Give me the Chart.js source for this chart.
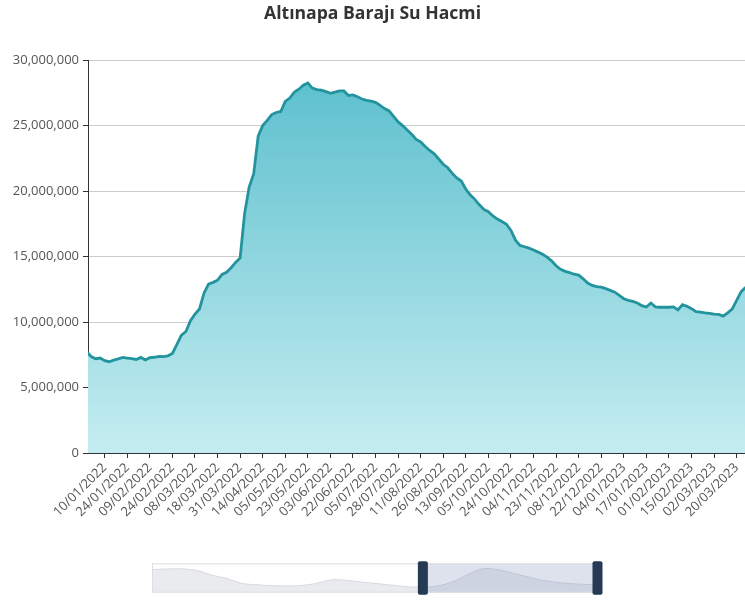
<!DOCTYPE html>
<html>
<head>
<meta charset="utf-8">
<script src="https://cdn.jsdelivr.net/npm/chart.js@4.4.1/dist/chart.umd.min.js"></script>
<style>
  html, body { margin: 0; padding: 0; background: #fff; overflow: hidden; }
  #wrap { position: relative; width: 745px; height: 600px; }
  #main { position: absolute; left: 0; top: 0; }
  #zoom { position: absolute; left: 140px; top: 555px; }
</style>
</head>
<body>
<div id="wrap">
  <canvas id="main" width="745" height="540"></canvas>
  <canvas id="zoom" width="475" height="45"></canvas>
</div>
<script>
// x axis tick labels (one every 5 points)
var tickLabels = ['10/01/2022', '24/01/2022', '09/02/2022', '24/02/2022', '08/03/2022', '18/03/2022',
  '31/03/2022', '14/04/2022', '05/05/2022', '23/05/2022', '03/06/2022', '22/06/2022', '05/07/2022',
  '28/07/2022', '11/08/2022', '26/08/2022', '13/09/2022', '05/10/2022', '24/10/2022', '04/11/2022',
  '23/11/2022', '08/12/2022', '22/12/2022', '04/01/2023', '17/01/2023', '01/02/2023', '15/02/2023',
  '02/03/2023', '20/03/2023'];
var pointsPerTick = 5;
var firstIndex = -4;   // first visible point sits 4 steps before 10/01/2022

// water volume, million m3
var volume = [
  7.75, 7.36, 7.2, 7.25,
  7.05, 6.97, 7.09, 7.19, 7.3, 7.25, 7.2, 7.14, 7.3, 7.11,
  7.28, 7.31, 7.37, 7.36, 7.42, 7.6, 8.3, 9.0, 9.28, 10.1,
  10.6, 11.0, 12.2, 12.9, 13.03, 13.2, 13.64, 13.8, 14.15, 14.55,
  14.9, 18.3, 20.3, 21.3, 24.2, 25.0, 25.4, 25.84, 26.0, 26.08,
  26.85, 27.1, 27.55, 27.78, 28.08, 28.25, 27.86, 27.75, 27.7, 27.6,
  27.46, 27.55, 27.65, 27.65, 27.3, 27.34, 27.2, 27.03, 26.92, 26.86,
  26.78, 26.55, 26.3, 26.12, 25.7, 25.28, 25.0, 24.66, 24.35, 23.95,
  23.75, 23.4, 23.1, 22.85, 22.45, 22.05, 21.78, 21.35, 21.0, 20.77,
  20.15, 19.7, 19.37, 18.95, 18.6, 18.42, 18.1, 17.86, 17.68, 17.47,
  17.0, 16.25, 15.85, 15.75, 15.64, 15.5, 15.34, 15.17, 14.96, 14.67,
  14.3, 14.02, 13.87, 13.77, 13.65, 13.58, 13.3, 12.98, 12.8, 12.71,
  12.66, 12.55, 12.42, 12.28, 12.04, 11.78, 11.66, 11.58, 11.45, 11.25,
  11.15, 11.45, 11.16, 11.13, 11.13, 11.13, 11.16, 10.92, 11.33, 11.2,
  11.02, 10.8, 10.75, 10.7, 10.67, 10.61, 10.58, 10.45, 10.7, 10.98,
  11.65, 12.32, 12.65
];

// whole-history shadow shown in the zoom slider, million m3
var overview = [26.8, 27.4, 27.6, 25.8, 20.4, 16.4, 10.7, 9.2, 8.2, 7.8, 8.4, 11.0, 14.9, 14.3, 12.2,
  10.5, 8.7, 6.9, 6.4, 7.6, 12.3, 20.4, 27.6, 26.8, 22.8, 18.5, 14.5, 12.0, 10.4, 9.6, 9.2];
var zoomStart = 60.8;  // percent
var zoomEnd = 100;

var font = { family: 'Open Sans', size: 13 };

var mainChart = new Chart(document.getElementById('main'), {
  type: 'line',
  data: {
    datasets: [{
      data: volume.map(function (v, i) { return { x: firstIndex + i, y: v * 1e6 }; }),
      borderColor: '#23939e',
      borderWidth: 2.8,
      pointRadius: 0,
      tension: 0,
      fill: 'origin',
      backgroundColor: function (c) {
        var a = c.chart.chartArea;
        if (!a) return 'rgb(140,213,222)';
        var g = c.chart.ctx.createLinearGradient(0, a.top, 0, a.bottom);
        g.addColorStop(0, 'rgb(88,190,204)');
        g.addColorStop(1, 'rgb(197,237,241)');
        return g;
      }
    }]
  },
  options: {
    responsive: false,
    animation: false,
    layout: { padding: 0 },
    plugins: {
      legend: { display: false },
      tooltip: { enabled: false },
      title: {
        display: true,
        text: 'Altınapa Barajı Su Hacmi',
        color: '#333',
        font: { family: 'Open Sans', size: 17.6, weight: 'bold', lineHeight: 1.2 },
        padding: { top: 3, bottom: 36 }
      }
    },
    scales: {
      x: {
        type: 'linear',
        min: -3.7,
        max: 141.85,
        afterFit: function (s) { s.paddingLeft = 0; s.paddingRight = 0; s.height = 87; },
        afterBuildTicks: function (s) {
          s.ticks = tickLabels.map(function (_, k) { return { value: k * pointsPerTick }; });
        },
        ticks: {
          autoSkip: false,
          minRotation: 45,
          maxRotation: 45,
          padding: 2,
          color: '#555',
          font: font,
          callback: function (v, i) { return tickLabels[i]; }
        },
        grid: { drawOnChartArea: false, tickLength: 5, tickColor: '#333' },
        border: { color: '#333' }
      },
      y: {
        min: 0,
        max: 30e6,
        afterFit: function (s) { s.width = 88; },
        ticks: {
          stepSize: 5e6,
          padding: 4,
          color: '#555',
          font: font,
          callback: function (v) { return v.toLocaleString('en-US'); }
        },
        grid: { color: '#ccc', tickColor: '#333', tickLength: 5 },
        border: { color: '#333' }
      }
    }
  }
});

// slider frame, selected window and handles
var sliderPlugin = {
  id: 'slider',
  afterDatasetsDraw: function (chart) {
    var c = chart.ctx, a = chart.chartArea;
    var w = a.right - a.left;
    var x0 = a.left + w * zoomStart / 100;
    var x1 = a.left + w * zoomEnd / 100;
    c.save();
    c.fillStyle = 'rgba(120,140,185,0.25)';
    c.fillRect(x0, a.top, x1 - x0, a.bottom - a.top);
    c.strokeStyle = '#dcdee3';
    c.lineWidth = 1;
    c.strokeRect(a.left + 0.5, a.top + 0.5, w - 1, a.bottom - a.top - 1);
    c.fillStyle = '#263a56';
    [x0, x1].forEach(function (x) {
      c.beginPath();
      c.roundRect(x - 5, a.top - 2, 10, a.bottom - a.top + 4, 2);
      c.fill();
    });
    c.restore();
  }
};

var zoomChart = new Chart(document.getElementById('zoom'), {
  type: 'line',
  data: {
    datasets: [{
      data: overview.map(function (v, k) { return { x: k, y: v * 1e6 }; }),
      borderColor: 'rgb(214,217,222)',
      borderWidth: 1,
      backgroundColor: 'rgb(234,235,238)',
      fill: 'origin',
      pointRadius: 0,
      tension: 0.3
    }]
  },
  options: {
    responsive: false,
    animation: false,
    layout: { padding: { left: 12, right: 17.5, top: 8.3, bottom: 7.3 } },
    plugins: { legend: { display: false }, tooltip: { enabled: false } },
    scales: {
      x: { type: 'linear', display: false, min: 0, max: 29.7 },
      y: { display: false, min: 0, max: 34e6 }
    }
  },
  plugins: [sliderPlugin]
});
</script>
</body>
</html>
